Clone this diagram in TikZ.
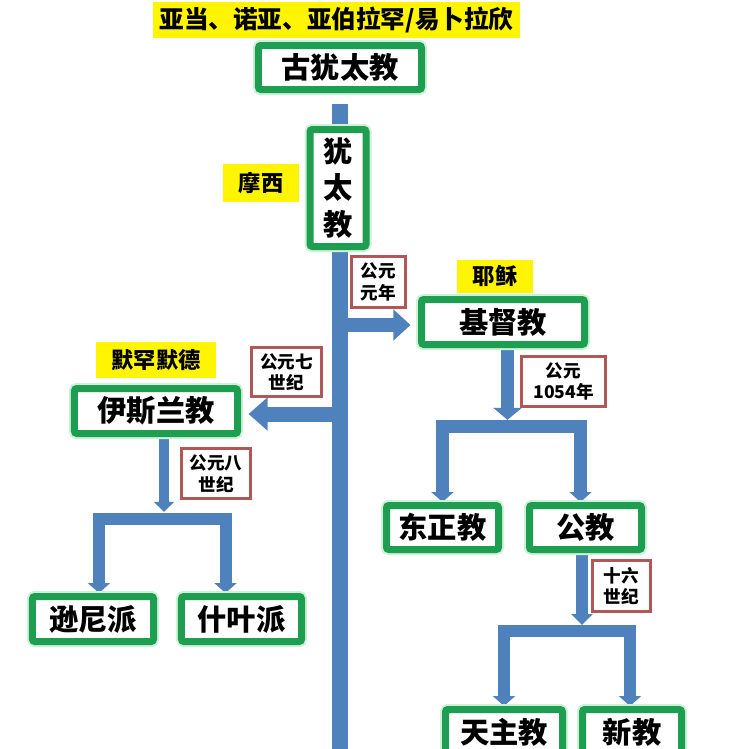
\documentclass[tikz,border=0pt]{standalone}
\usepackage{fontspec}
\setmainfont{Noto Sans CJK SC}
\usepackage{tikz}
\usetikzlibrary{arrows.meta,backgrounds}
\definecolor{flowblue}{RGB}{79,129,189}
\definecolor{boxgreen}{RGB}{30,158,80}
\definecolor{glowgreen}{RGB}{205,242,215}
\definecolor{datered}{RGB}{176,88,88}
\definecolor{noteyellow}{RGB}{255,245,0}

\begin{document}
\begin{tikzpicture}[
    x=0.03cm, y=-0.03cm,
    mainbox/.style={draw=boxgreen, line width=0.21cm, fill=white, inner sep=0, rounded corners=2pt,
        font=\fontsize{25}{31}\selectfont\bfseries, preaction={draw=glowgreen, line width=0.33cm}},
    datebox/.style={draw=datered, line width=0.09cm, fill=white, inner sep=0, align=center,
        font=\fontsize{15}{18.5}\selectfont\bfseries},
    namebox/.style={fill=noteyellow, inner sep=0, font=\fontsize{19}{22}\selectfont\bfseries},
    flow/.style={draw=flowblue, line width=0.36cm, -{Triangle[width=0.66cm,length=0.3cm]}}
]
    \useasboundingbox (0,0) rectangle (733,749);

    % Ancient line
    \node[namebox, minimum width=11.01cm, minimum height=1.08cm, font=\fontsize{21}{24}\selectfont\bfseries] (adam) at (336.5,20) {亚当、诺亚、亚伯拉罕/易卜拉欣};
    \node[mainbox, minimum width=4.89cm, minimum height=1.32cm] (gu) at (340,67.5) {古犹太教};
    \node[mainbox, minimum width=1.68cm, minimum height=3.51cm, align=center] (you) at (338,188) {犹\\太\\教};
    \node[namebox, minimum width=2.28cm, minimum height=1.14cm] (moxi) at (261,183) {摩西};

    % Christian branch
    \node[datebox, minimum width=1.62cm, minimum height=1.53cm] (yuan) at (378.5,282) {公元\\元年};
    \node[namebox, minimum width=2.28cm, minimum height=0.99cm] (yesu) at (495,276.5) {耶稣};
    \node[mainbox, minimum width=4.89cm, minimum height=1.35cm] (jidu) at (503,322) {基督教};
    \node[datebox, minimum width=2.52cm, minimum height=1.5cm] (ad1054) at (563.5,381.5) {公元\\1054年};
    \node[mainbox, minimum width=3.36cm, minimum height=1.32cm] (dongzheng) at (442.5,527.5) {东正教};
    \node[mainbox, minimum width=3.36cm, minimum height=1.32cm] (gong) at (585.5,527.5) {公教};
    \node[datebox, minimum width=1.74cm, minimum height=1.53cm] (shiliu) at (621.5,586) {十六\\世纪};
    \node[mainbox, minimum width=3.51cm, minimum height=1.35cm] (tianzhu) at (504,732) {天主教};
    \node[mainbox, minimum width=2.97cm, minimum height=1.35cm] (xin) at (632,732) {新教};

    % Islamic branch
    \node[namebox, minimum width=3.6cm, minimum height=1.08cm] (mu) at (156,360) {默罕默德};
    \node[datebox, minimum width=2.1cm, minimum height=1.47cm] (qi) at (286.5,372) {公元七\\世纪};
    \node[mainbox, minimum width=4.89cm, minimum height=1.35cm] (yisi) at (156,411) {伊斯兰教};
    \node[datebox, minimum width=2.07cm, minimum height=1.5cm] (ba) at (216,473.5) {公元八\\世纪};
    \node[mainbox, minimum width=3.63cm, minimum height=1.35cm] (sunni) at (93,619) {逊尼派};
    \node[mainbox, minimum width=3.6cm, minimum height=1.35cm] (shiye) at (241.5,619) {什叶派};

    % Trunk and fork points
    \coordinate (bottom) at (340,760);
    \coordinate (t1) at (340,325);
    \coordinate (t2) at (340,414);
    \coordinate (fork1) at (164,518.5);
    \coordinate (fork2) at (507.5,426.5);
    \coordinate (fork3) at (582,631);

    \begin{scope}[on background layer]
        \fill[white] (0,0) rectangle (733,749);
        % Trunk
        \draw[flow, -, line width=0.5cm] ([yshift=-0.33cm]gu.south -| bottom) -- (you.north -| bottom);
        \draw[flow, -, line width=0.5cm] (you.south -| bottom) -- (bottom);
        \draw[flow, line width=0.42cm, -{Triangle[width=0.9cm,length=0.51cm]}, shorten >=0.225cm] (t1) -- (jidu.west |- t1);
        \draw[flow, line width=0.45cm, -{Triangle[width=0.96cm,length=0.57cm]}, shorten >=0.225cm] (t2) -- (yisi.east |- t2);

        % Christian splits
        \draw[flow, line width=0.39cm, -{Triangle[width=0.84cm,length=0.36cm]}] (jidu.south -| fork2) -- ([yshift=0.2cm]fork2);
        \draw[flow, line width=0.39cm] (fork2) -| (dongzheng.north);
        \draw[flow, line width=0.39cm] (fork2) -| ([xshift=-0.15cm]gong.north);
        \draw[flow, -{Triangle[width=0.63cm,length=0.33cm]}] (gong.south -| fork3) -- ([yshift=0.18cm]fork3);
        \draw[flow] (fork3) -| (tianzhu.north);
        \draw[flow] (fork3) -| ([xshift=-0.06cm]xin.north);

        % Islamic split
        \draw[flow, line width=0.3cm, -{Triangle[width=0.6cm,length=0.3cm]}] (yisi.south -| fork1) -- ([yshift=0.2cm]fork1);
        \draw[flow] (fork1) -| ([xshift=0.18cm]sunni.north);
        \draw[flow] (fork1) -| ([xshift=-0.48cm]shiye.north);
    \end{scope}
\end{tikzpicture}
\end{document}
